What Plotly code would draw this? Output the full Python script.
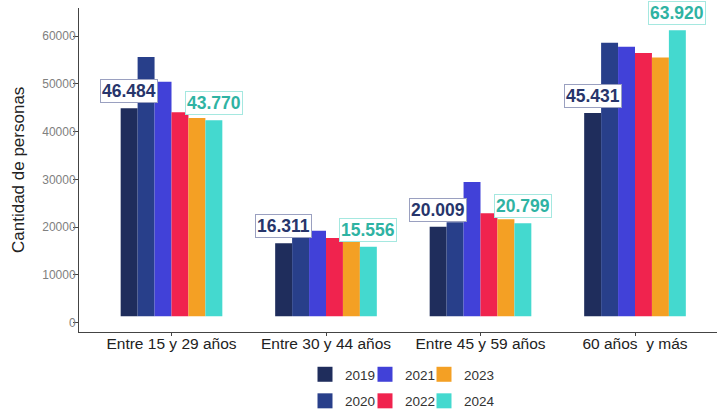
import plotly.graph_objects as go

categories = ["Entre 15 y 29 años", "Entre 30 y 44 años", "Entre 45 y 59 años", "60 años  y más"]
years = ["2019", "2020", "2021", "2022", "2023", "2024"]
values = {
    "2019": [46484, 16311, 20009, 45431],
    "2020": [57900, 22700, 21000, 61100],
    "2021": [52400, 19100, 30000, 60200],
    "2022": [45600, 17500, 23000, 58800],
    "2023": [44300, 16600, 21700, 57800],
    "2024": [43770, 15556, 20799, 63920],
}
colors = {
    "2019": "#1f2d5c",
    "2020": "#283f8a",
    "2021": "#4141d8",
    "2022": "#f0234e",
    "2023": "#f4a024",
    "2024": "#44d9cf",
}
y_ticks = [0, 10000, 20000, 30000, 40000, 50000, 60000]
y_title = "Cantidad de personas"
labeled_years = {"2019": ("#27356b", "#9aa0c0"), "2024": ("#2fb3a3", "#a5e8e0")}

W, H = 717, 409
bargap = 0.342

fig = go.Figure()
for yr in years:
    fig.add_trace(go.Bar(
        x=list(range(len(categories))), y=values[yr], name=yr,
        marker=dict(color=colors[yr], line=dict(width=0)),
        yaxis="y2", showlegend=False, hoverinfo="skip",
    ))

# legend entries (three 2-item columns)
legend_cols = [("legend", ["2019", "2020"]), ("legend2", ["2021", "2022"]), ("legend3", ["2023", "2024"])]
for lg, yrs in legend_cols:
    for yr in yrs:
        fig.add_trace(go.Scatter(
            x=[None], y=[None], mode="markers", name=yr, legend=lg, legendgroup=yr,
            marker=dict(symbol="square", size=15, color=colors[yr]),
            yaxis="y", showlegend=True, hoverinfo="skip",
        ))

# annotations for 2019 and 2024
n = len(years)
bw = (1 - bargap) / n
for yr, (tc, bc) in labeled_years.items():
    k = years.index(yr)
    off = (k - (n - 1) / 2) * bw
    for i, v in enumerate(values[yr]):
        fig.add_annotation(
            x=i + off, y=v, xref="x", yref="y2", yanchor="bottom", yshift=5,
            text=f"<b>{v:,}</b>".replace(",", "."), showarrow=False,
            font=dict(family="Arial", size=17.5, color=tc),
            bgcolor="white", bordercolor=bc, borderwidth=1, borderpad=1,
        )

left, right, top, bottom = 79, 0, 8, 77
plot_w = W - left - right
plot_h = H - top - bottom
grp_px = 154.5
x0 = -(171.5 - left) / grp_px
x1 = x0 + plot_w / grp_px

# y-axis title
fig.add_annotation(
    x=(18 - left) / plot_w, y=0.5, xref="paper", yref="paper",
    text=y_title, textangle=-90, showarrow=False,
    font=dict(family="Arial", size=17, color="#222222"),
    xanchor="center", yanchor="middle",
)

legend_common = dict(
    orientation="v", xref="container", yref="container", xanchor="left", yanchor="top",
    font=dict(family="Arial", size=13.5, color="#333333"), tracegroupgap=6,
    bgcolor="rgba(0,0,0,0)", itemsizing="trace",
)
lx = [305, 365, 424]
ly = 359

fig.update_layout(
    width=W, height=H,
    margin=dict(l=left, r=right, t=top, b=bottom, autoexpand=False),
    paper_bgcolor="white", plot_bgcolor="white",
    barmode="group", bargap=bargap, bargroupgap=0,
    font=dict(family="Arial"),
    hovermode=False,
    xaxis=dict(
        type="linear",
        tickmode="array", tickvals=list(range(len(categories))), ticktext=categories,
        range=[x0, x1], showline=True, linecolor="#444444", linewidth=1,
        ticks="outside", ticklen=3, tickcolor="#444444", ticklabelstandoff=-6,
        tickfont=dict(family="Arial", size=15.5, color="#222222"), showgrid=False, zeroline=False,
    ),
    yaxis=dict(
        type="linear",
        range=[-1946, 65865], tickmode="array", tickvals=y_ticks, ticktext=[str(t) for t in y_ticks],
        showline=True, linecolor="#444444", linewidth=1, ticks="outside", ticklen=5,
        tickcolor="#444444", tickfont=dict(family="Arial", size=12, color="#808080"),
        ticklabelstandoff=-5,
        showgrid=False, zeroline=False,
    ),
    yaxis2=dict(
        type="linear",
        range=[-3507, 68863], overlaying="y", side="left", visible=False,
        showgrid=False, zeroline=False,
    ),
    legend=dict(x=lx[0] / W, y=1 - ly / H, **legend_common),
    legend2=dict(x=lx[1] / W, y=1 - ly / H, **legend_common),
    legend3=dict(x=lx[2] / W, y=1 - ly / H, **legend_common),
)

fig.write_html(
    "out.html",
    config={"displayModeBar": False, "staticPlot": True},
    post_script="document.body.style.margin='0';document.body.style.overflow='hidden';",
)
